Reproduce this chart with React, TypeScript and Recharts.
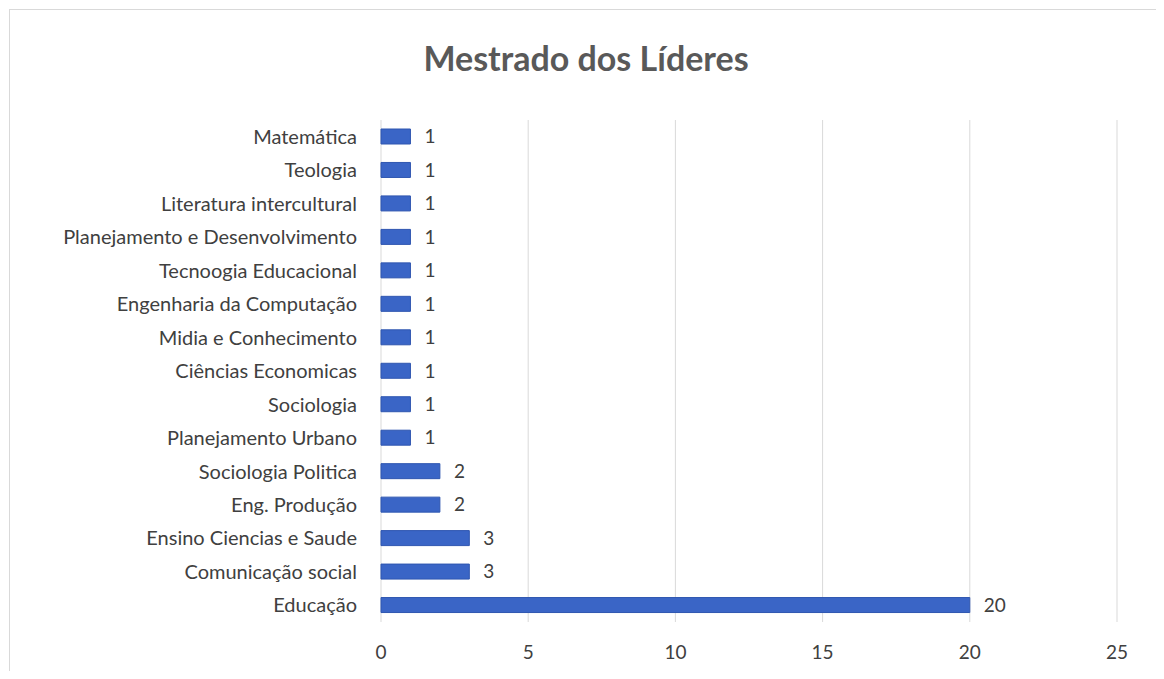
import { BarChart, Bar, XAxis, YAxis, CartesianGrid, LabelList } from "recharts";

const categories = [
    "Matemática",
    "Teologia",
    "Literatura intercultural",
    "Planejamento e Desenvolvimento",
    "Tecnoogia Educacional",
    "Engenharia da Computação",
    "Midia e Conhecimento",
    "Ciências Economicas",
    "Sociologia",
    "Planejamento Urbano",
    "Sociologia Politica",
    "Eng. Produção",
    "Ensino Ciencias e Saude",
    "Comunicação social",
    "Educação",
];

const counts = [1, 1, 1, 1, 1, 1, 1, 1, 1, 1, 2, 2, 3, 3, 20];

const xTicks = [0, 5, 10, 15, 20, 25];

const data = categories.map((name, i) => ({ name, value: counts[i] }));

const FONT = "Lato, 'Open Sans', sans-serif";
const TEXT = "#404040";

export default function App() {
    return (
        <div style={{ position: "relative", width: 1164, height: 679, margin: -8, background: "#fff", fontFamily: FONT, overflow: "hidden" }}>
            <div
                style={{
                    position: "absolute",
                    left: 9,
                    top: 9,
                    width: 1150,
                    height: 680,
                    border: "1px solid #d9d9d9",
                }}
            />
            <div
                style={{
                    position: "absolute",
                    left: 0,
                    top: 37,
                    width: 1172,
                    textAlign: "center",
                    fontSize: 34,
                    fontWeight: 700,
                    color: "#595959",
                }}
            >
                Mestrado dos Líderes
            </div>
            <div style={{ position: "absolute", left: 0, top: 0 }}>
                <BarChart
                    width={1164}
                    height={679}
                    data={data}
                    layout="vertical"
                    margin={{ top: 120, right: 47, left: 10, bottom: 0 }}
                    barSize={15}
                >
                    <CartesianGrid vertical horizontal={false} stroke="#d9d9d9" />
                    <XAxis
                        type="number"
                        domain={[0, 25]}
                        ticks={xTicks}
                        axisLine={false}
                        tickLine={false}
                        tickMargin={18}
                        tick={{ fill: TEXT, fontSize: 19, fontFamily: FONT }}
                        height={57}
                    />
                    <YAxis
                        type="category"
                        dataKey="name"
                        width={371}
                        axisLine={false}
                        tickLine={false}
                        tickMargin={18}
                        interval={0}
                        tick={{ fill: TEXT, fontSize: 20, fontFamily: FONT }}
                    />
                    <Bar dataKey="value" fill="#3a65c6" stroke="#2f56b0" isAnimationActive={false}>
                        <LabelList
                            dataKey="value"
                            position="right"
                            offset={14}
                            style={{ fill: TEXT, fontSize: 19, fontFamily: FONT }}
                        />
                    </Bar>
                </BarChart>
            </div>
        </div>
    );
}
